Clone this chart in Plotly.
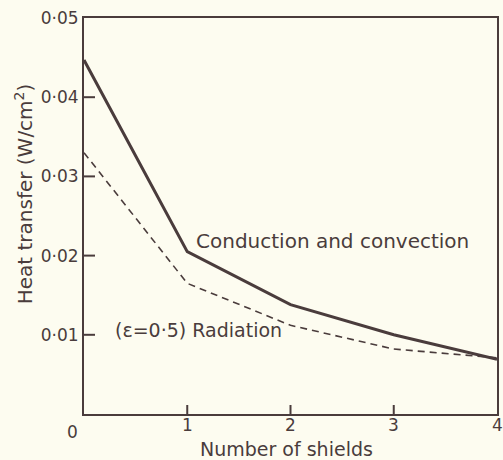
import plotly.graph_objects as go

# Heat transfer through an insulated space versus number of radiation shields
shields = [0, 1, 2, 3, 4]
conduction_convection = [0.0447, 0.0205, 0.0138, 0.0100, 0.0069]
radiation = [0.0330, 0.0165, 0.0112, 0.0082, 0.0071]

y_tickvals = [0.01, 0.02, 0.03, 0.04, 0.05]
y_ticktext = ["0·01", "0·02", "0·03", "0·04", "0·05"]
x_tickvals = [1, 2, 3, 4]
x_ticktext = ["1", "2", "3", "4"]

ink = "#4a3c3c"
paper = "#fdfcf0"
font_family = "DejaVu Sans"

X_RANGE = [0, 4]
Y_RANGE = [0, 0.05]
Y_TICK_PX = 11   # inward tick length on the left frame, pixels
X_TICK_PX = 9    # inward tick length on the bottom frame, pixels

fig = go.Figure()
fig.add_trace(go.Scatter(
    x=shields, y=conduction_convection, mode="lines",
    line=dict(color=ink, width=3), showlegend=False,
))
fig.add_trace(go.Scatter(
    x=shields, y=radiation, mode="lines",
    line=dict(color=ink, width=1.6, dash="7px,5px"), showlegend=False,
))

# Inward tick marks along the left and bottom frame, anchored on the tick values
for yv in y_tickvals[:-1]:
    fig.add_shape(type="line", xref="x", yref="y", xsizemode="pixel",
                  xanchor=X_RANGE[0], x0=0, x1=Y_TICK_PX, y0=yv, y1=yv,
                  line=dict(color=ink, width=2), layer="above")
for xv in x_tickvals[:-1]:
    fig.add_shape(type="line", xref="x", yref="y", ysizemode="pixel",
                  yanchor=Y_RANGE[0], y0=0, y1=X_TICK_PX, x0=xv, x1=xv,
                  line=dict(color=ink, width=2), layer="above")

fig.add_annotation(x=1.07, y=0.0218, text="Conduction and convection",
                   xanchor="left", yanchor="middle", showarrow=False,
                   font=dict(size=20, color=ink, family=font_family))
fig.add_annotation(x=0.28, y=0.0106, text="(ε=0·5) Radiation",
                   xanchor="left", yanchor="middle", showarrow=False,
                   font=dict(size=19, color=ink, family=font_family))

# x tick labels, plus the shared origin label
for xv, label in zip(x_tickvals, x_ticktext):
    fig.add_annotation(x=xv, xref="x", yref="paper", y=-0.028, text=label,
                       xanchor="center", yanchor="middle", showarrow=False,
                       font=dict(size=17, color=ink, family=font_family))
fig.add_annotation(xref="paper", yref="paper", x=-0.027, y=-0.046, text="0",
                   xanchor="center", yanchor="middle", showarrow=False,
                   font=dict(size=17, color=ink, family=font_family))

fig.add_annotation(xref="paper", yref="paper", x=-0.145, y=0.555,
                   text="Heat transfer (W/cm<sup>2</sup>)", textangle=-90,
                   xanchor="center", yanchor="middle", showarrow=False,
                   font=dict(size=20, color=ink, family=font_family))
fig.add_annotation(xref="paper", yref="paper", x=0.49, y=-0.089,
                   text="Number of shields",
                   xanchor="center", yanchor="middle", showarrow=False,
                   font=dict(size=19, color=ink, family=font_family))

fig.update_xaxes(
    range=X_RANGE, showticklabels=False, ticks="",
    showline=True, linecolor=ink, linewidth=2, mirror=True,
    showgrid=False, zeroline=False,
)
fig.update_yaxes(
    range=Y_RANGE, tickmode="array", tickvals=y_tickvals, ticktext=y_ticktext,
    ticks="",
    showline=True, linecolor=ink, linewidth=2, mirror=True,
    showgrid=False, zeroline=False,
    tickfont=dict(size=17, color=ink, family=font_family),
)
fig.update_layout(
    width=503, height=460,
    margin=dict(l=84, r=4, t=18, b=46),
    paper_bgcolor=paper, plot_bgcolor=paper,
)

fig.write_html("out.html")
